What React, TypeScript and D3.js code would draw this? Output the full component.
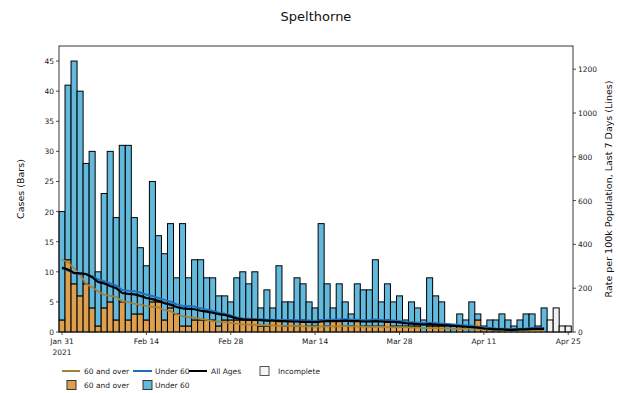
import React from "react";
import * as d3 from "d3";

const TITLE = "Spelthorne";
const START = new Date(2021, 0, 31);
const NDAYS = 85;

// bar values: 60 and over (orange) and under 60 (blue, stacked on top)
const over60 = [2,12,8,6,8,4,1,4,5,2,5,2,3,3,2,5,5,2,4,3,1,1,2,2,2,2,1,2,2,2,2,2,2,1,1,2,2,1,2,1,2,1,1,2,1,2,2,1,1,2,1,1,1,1,2,1,1,1,1,1,0,1,1,1,0,0,1,0,0,2,1,0,0,0,0,0,0,0,0,0,0,0,0,0,0];
const totals = [20,41,45,40,28,30,10,23,30,19,31,31,19,14,11,25,16,13,18,9,18,9,12,12,9,9,6,6,5,9,10,8,10,4,7,4,11,5,5,9,8,5,4,18,8,4,8,5,3,8,7,7,12,5,8,5,6,2,5,4,2,9,6,5,1,1,3,2,5,3,1,2,2,3,2,1,2,3,3,1,4,2,4,1,1];
const under60 = totals.map((t, i) => t - over60[i]);
const incompleteFrom = 81; // index of first incomplete day

// rates per 100k, last 7 days (lines), complete days only
const rateAll = [294,285,270,268,265,250,228,222,210,200,178,174,172,165,155,150,142,132,125,114,108,106,104,97,93,88,82,78,70,62,58,56,55,54,52,52,50,50,48,48,46,46,45,48,50,50,50,52,50,50,48,48,50,48,46,46,44,40,38,36,34,36,34,32,30,28,26,24,22,20,16,14,12,12,10,10,12,12,14,14,14];
const rateUnder = [290,280,268,266,264,255,240,232,222,212,192,188,186,180,170,164,156,146,138,126,120,118,116,108,102,96,88,84,76,66,62,60,58,58,56,56,55,55,54,54,52,52,50,54,56,56,57,58,56,56,54,55,57,55,53,52,50,46,44,42,40,42,40,38,36,34,32,30,28,24,20,18,16,15,14,14,15,16,18,18,18];
const rateOver = [330,320,290,260,220,205,185,170,165,160,140,136,130,125,118,115,112,100,95,80,72,68,65,60,55,50,48,45,42,38,35,34,32,32,30,30,28,28,28,28,26,26,25,26,26,26,26,28,26,26,25,24,24,24,22,22,22,22,20,20,18,18,18,16,16,14,14,14,12,12,12,10,8,8,6,6,6,5,5,5,5];

const xTickDates = [new Date(2021,0,31), new Date(2021,1,14), new Date(2021,1,28), new Date(2021,2,14), new Date(2021,2,28), new Date(2021,3,11), new Date(2021,3,25)];
const xTickLabels = [["Jan 31","2021"],["Feb 14"],["Feb 28"],["Mar 14"],["Mar 28"],["Apr 11"],["Apr 25"]];
const leftTicks = [0,5,10,15,20,25,30,35,40,45];
const rightTicks = [0,200,400,600,800,1000,1200];

const C_BLUE = "#62b9dc";
const C_ORANGE = "#dea04e";
const L_OVER = "#a5803a";
const L_UNDER = "#1f6fc0";
const FONT = "DejaVu Sans, sans-serif";

export default function App() {
  const W = 620, H = 393;
  const L = 59, R = 573, T = 46, B = 332;
  const dates = d3.range(NDAYS).map(i => d3.timeDay.offset(START, i));
  const x = d3.scaleTime()
    .domain([d3.timeHour.offset(START, -12), d3.timeHour.offset(START, 84 * 24 + 19)])
    .range([L, R]);
  const dayW = x(d3.timeDay.offset(START, 1)) - x(START);
  const yL = d3.scaleLinear().domain([0, 47.5]).range([B, T]);
  const yR = d3.scaleLinear().domain([0, 1306]).range([B, T]);
  const line = d3.line<number>().x((_, i) => x(dates[i])).y(v => yR(v));

  const bars: React.ReactNode[] = [];
  dates.forEach((d, i) => {
    const x0 = x(d) - dayW / 2;
    if (i >= incompleteFrom) {
      bars.push(<rect key={"inc" + i} x={x0} width={dayW} y={yL(totals[i])} height={yL(0) - yL(totals[i])} fill="#f1f1f1" stroke="#000" strokeWidth={1} />);
    } else {
      const o = over60[i], u = under60[i];
      bars.push(<rect key={"o" + i} x={x0} width={dayW} y={yL(o)} height={yL(0) - yL(o)} fill={C_ORANGE} stroke="#000" strokeWidth={1} />);
      bars.push(<rect key={"u" + i} x={x0} width={dayW} y={yL(o + u)} height={yL(o) - yL(o + u)} fill={C_BLUE} stroke="#000" strokeWidth={1} />);
    }
  });

  return (
    <div style={{ position: "absolute", left: 0, top: 0 }}>
      <svg width={W} height={H} style={{ display: "block", background: "#fff" }} fontFamily={FONT}>
        <text x={316} y={21} textAnchor="middle" fontSize={13} fill="#111">{TITLE}</text>
        <g>{bars}</g>
        <path d={line(rateOver) || ""} fill="none" stroke={L_OVER} strokeWidth={1.8} />
        <path d={line(rateUnder) || ""} fill="none" stroke={L_UNDER} strokeWidth={2} />
        <path d={line(rateAll) || ""} fill="none" stroke="#000" strokeWidth={2.2} />
        <rect x={L} y={T} width={R - L} height={B - T} fill="none" stroke="#222" strokeWidth={0.9} />
        {leftTicks.map(t => (
          <g key={"l" + t}>
            <line x1={L - 3} x2={L} y1={yL(t)} y2={yL(t)} stroke="#222" strokeWidth={0.8} />
            <text x={L - 5} y={yL(t) + 3} textAnchor="end" fontSize={7.5} fill="#222">{t}</text>
          </g>
        ))}
        {rightTicks.map(t => (
          <g key={"r" + t}>
            <line x1={R} x2={R + 3} y1={yR(t)} y2={yR(t)} stroke="#222" strokeWidth={0.8} />
            <text x={R + 5} y={yR(t) + 3} textAnchor="start" fontSize={7.5} fill="#222">{t}</text>
          </g>
        ))}
        {xTickDates.map((d, i) => (
          <g key={"x" + i}>
            <line x1={x(d)} x2={x(d)} y1={B} y2={B + 3} stroke="#222" strokeWidth={0.8} />
            {xTickLabels[i].map((s, j) => (
              <text key={j} x={x(d)} y={B + 12 + j * 11} textAnchor="middle" fontSize={7.5} fill="#222">{s}</text>
            ))}
          </g>
        ))}
        <text transform={`translate(24,${(T + B) / 2}) rotate(-90)`} textAnchor="middle" fontSize={9.5} fill="#111">Cases (Bars)</text>
        <text transform={`translate(612,${(T + B) / 2}) rotate(-90)`} textAnchor="middle" fontSize={9.5} fill="#111">Rate per 100k Population, Last 7 Days (Lines)</text>
        <g fontSize={7.5} fill="#222">
          <line x1={62} x2={80} y1={371} y2={371} stroke={L_OVER} strokeWidth={2} />
          <text x={84} y={374}>60 and over</text>
          <line x1={133} x2={152} y1={371} y2={371} stroke={L_UNDER} strokeWidth={2} />
          <text x={155} y={374}>Under 60</text>
          <line x1={189} x2={207} y1={371} y2={371} stroke="#000" strokeWidth={2} />
          <text x={211} y={374}>All Ages</text>
          <rect x={260} y={366.5} width={9} height={9} fill="#f6f6f6" stroke="#555" strokeWidth={1} />
          <text x={278} y={374}>Incomplete</text>
          <rect x={67} y={380.5} width={9} height={9} fill={C_ORANGE} stroke="#333" strokeWidth={1} />
          <text x={84} y={388}>60 and over</text>
          <rect x={143} y={380.5} width={9} height={9} fill={C_BLUE} stroke="#333" strokeWidth={1} />
          <text x={155} y={388}>Under 60</text>
        </g>
      </svg>
    </div>
  );
}
